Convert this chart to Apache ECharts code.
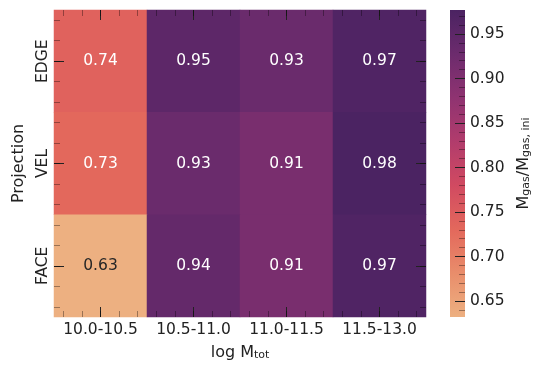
<!DOCTYPE html>
<html>
<head>
<meta charset="utf-8">
<script src="https://cdn.jsdelivr.net/npm/echarts@6/dist/echarts.min.js"></script>
<style>
  html, body { margin: 0; padding: 0; background: #fff; }
  #chart { width: 545px; height: 372px; }
</style>
</head>
<body>
<div id="chart"></div>
<script>
// categories
const massBins = ['10.0-10.5', '10.5-11.0', '11.0-11.5', '11.5-13.0']
const projections = ['EDGE', 'VEL', 'FACE']

// M_gas / M_gas,ini per projection (one value per mass bin)
const edgeVals = [0.74, 0.95, 0.93, 0.97]
const velVals = [0.73, 0.93, 0.91, 0.977]
const faceVals = [0.632, 0.94, 0.91, 0.97]

// colorbar ticks
const cbarTicks = [0.65, 0.70, 0.75, 0.80, 0.85, 0.90, 0.95]
const cbarMinorTicks = [0.64, 0.66, 0.67, 0.68, 0.69, 0.71, 0.72, 0.73, 0.74, 0.76, 0.77, 0.78, 0.79,
  0.81, 0.82, 0.83, 0.84, 0.86, 0.87, 0.88, 0.89, 0.91, 0.92, 0.93, 0.94, 0.96, 0.97]

// seaborn "flare"
const flare = ['#edb081', '#e98d6b', '#e3685c', '#d14a61', '#b13c6c', '#8f3371', '#6c2b6d', '#4b2362']

const rows = [edgeVals, velVals, faceVals]
const allVals = rows.flat()
const vmin = Math.min(...allVals)
const vmax = Math.max(...allVals)

const cells = []
rows.forEach((row, i) => {
  row.forEach((v, j) => {
    // light cells get dark text, like seaborn annot
    const light = (v - vmin) / (vmax - vmin) < 0.15
    cells.push({ value: [j, i, v], label: { color: light ? '#262626' : '#ffffff' } })
  })
})

const FONT = 'DejaVu Sans'
const TXT = '#222'
const TICK_FS = 15.5
const NAME_FS = 16
// negative length -> ticks point into the plot
const majorTick = { show: true, inside: false, length: -10, alignWithLabel: true, lineStyle: { color: '#222', width: 1 } }
const minorTick = { show: true, inside: false, length: -6, alignWithLabel: true, lineStyle: { color: 'rgba(0,0,0,0.35)', width: 1 } }
const minorCats = n => Array.from({ length: n * 5 }, () => '')
const hidden = { show: false }
const noLine = { show: false, onZero: false }

const boxMain = { left: 54, top: 10, width: 372, height: 307 }
const boxCbar = { left: 450, top: 10, width: 15, height: 307 }

// grid 0: heatmap + major ticks, grid 1: minor ticks (same box)
// grid 2: colorbar major ticks, grid 3: colorbar minor ticks
const grids = [boxMain, boxMain, boxCbar, boxCbar]

function catX(grid, pos, cats, tick, labels) {
  return {
    type: 'category', gridIndex: grid, position: pos, data: cats, z: 10,
    axisLine: noLine, splitLine: hidden, axisTick: tick,
    axisLabel: labels ? { show: true, interval: 0, margin: 5, fontSize: TICK_FS, color: TXT, fontFamily: FONT } : hidden
  }
}
function catY(grid, pos, cats, tick, labels) {
  return {
    type: 'category', gridIndex: grid, position: pos, data: cats, inverse: true, z: 10,
    axisLine: noLine, splitLine: hidden, axisTick: tick,
    axisLabel: labels ? { show: true, interval: 0, rotate: 90, margin: 3, fontSize: TICK_FS, color: TXT, fontFamily: FONT } : hidden
  }
}

const subRich = { sub: { fontSize: 11, color: TXT, fontFamily: FONT, verticalAlign: 'bottom', padding: [6, 0, 0, 0] } }

const xMain = catX(0, 'bottom', massBins, majorTick, true)
xMain.name = 'log M{sub|tot}'
xMain.nameLocation = 'middle'
xMain.nameGap = 27
xMain.nameTextStyle = { fontSize: NAME_FS, color: TXT, fontFamily: FONT, rich: subRich }

const yMain = catY(0, 'left', projections, majorTick, true)
yMain.name = 'Projection'
yMain.nameLocation = 'middle'
yMain.nameGap = 27
yMain.nameTextStyle = { fontSize: NAME_FS, color: TXT, fontFamily: FONT }

// square colorbar: flare gradient, top = vmax
const cbarStops = flare.map((c, i) => ({ offset: 1 - i / (flare.length - 1), color: c })).reverse()

const chart = echarts.init(document.getElementById('chart'), null, { renderer: 'canvas' })

chart.setOption({
  animation: false,
  textStyle: { fontFamily: FONT },
  grid: grids,
  xAxis: [
    xMain,
    catX(0, 'top', massBins, majorTick, false),
    catX(1, 'bottom', minorCats(massBins.length), minorTick, false),
    catX(1, 'top', minorCats(massBins.length), minorTick, false),
    { type: 'category', gridIndex: 2, show: false, data: [''] },
    { type: 'category', gridIndex: 3, show: false, data: [''] }
  ],
  yAxis: [
    yMain,
    catY(0, 'right', projections, majorTick, false),
    catY(1, 'left', minorCats(projections.length), minorTick, false),
    catY(1, 'right', minorCats(projections.length), minorTick, false),
    {
      type: 'value', gridIndex: 2, position: 'right', min: vmin, max: vmax, z: 10,
      axisLine: noLine, splitLine: hidden,
      axisTick: { show: true, inside: false, length: -10, customValues: cbarTicks, lineStyle: { color: '#222', width: 1 } },
      axisLabel: {
        show: true, customValues: cbarTicks, margin: 5, fontSize: TICK_FS, color: TXT, fontFamily: FONT,
        formatter: v => v.toFixed(2)
      },
      name: 'M{sub|gas}/M{sub|gas, ini}',
      nameLocation: 'middle',
      nameGap: 50,
      nameRotate: 90,
      nameTextStyle: { fontSize: NAME_FS, color: TXT, fontFamily: FONT, rich: subRich }
    },
    {
      type: 'value', gridIndex: 3, position: 'right', min: vmin, max: vmax, z: 10,
      axisLine: noLine, splitLine: hidden, axisLabel: hidden,
      axisTick: { show: true, inside: false, length: -6, customValues: cbarMinorTicks, lineStyle: { color: 'rgba(0,0,0,0.35)', width: 1 } }
    }
  ],
  visualMap: {
    type: 'continuous',
    show: false,
    min: vmin,
    max: vmax,
    seriesIndex: 0,
    inRange: { color: flare }
  },
  graphic: [{
    type: 'rect',
    z: 1,
    silent: true,
    shape: { x: boxCbar.left, y: boxCbar.top, width: boxCbar.width, height: boxCbar.height },
    style: {
      fill: { type: 'linear', x: 0, y: 0, x2: 0, y2: 1, colorStops: cbarStops }
    }
  }],
  series: [{
    type: 'heatmap',
    xAxisIndex: 0,
    yAxisIndex: 0,
    data: cells,
    z: 1,
    label: {
      show: true,
      fontSize: TICK_FS,
      fontFamily: FONT,
      formatter: p => p.value[2].toFixed(2)
    },
    emphasis: { disabled: true }
  }]
})
</script>
</body>
</html>
